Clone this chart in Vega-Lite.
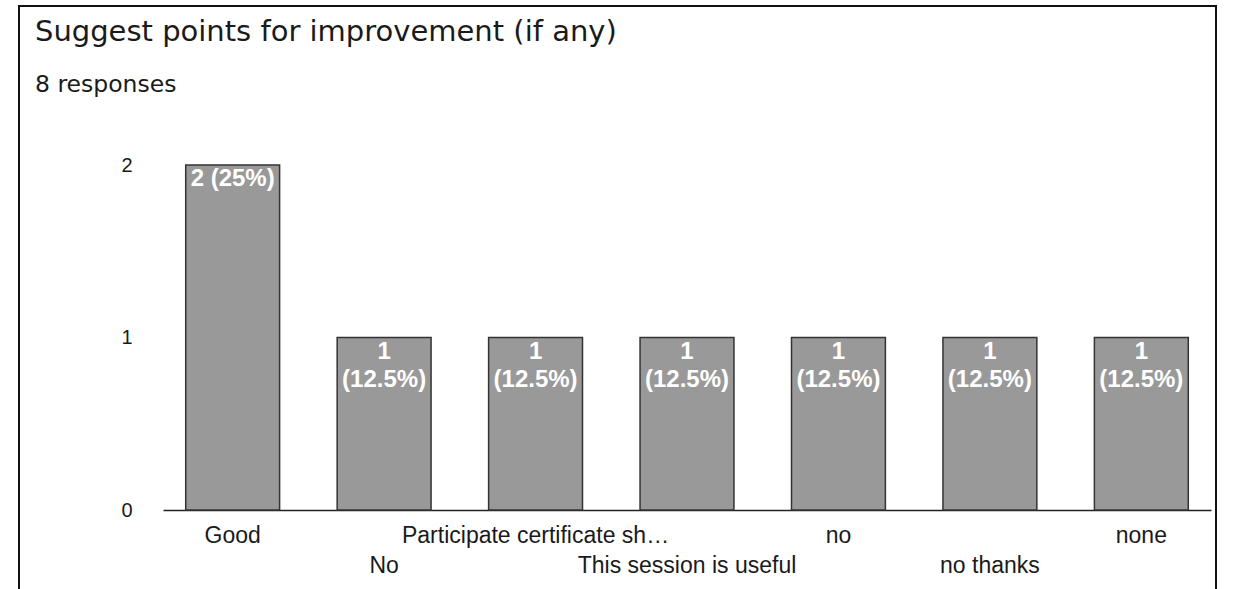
{
  "$schema": "https://vega.github.io/schema/vega-lite/v6.json",
  "autosize": "none",
  "width": 1197,
  "height": 590,
  "padding": {"left": 19, "top": 6, "right": 19, "bottom": 0},
  "background": "white",
  "config": {
    "view": {"stroke": "#111111", "strokeWidth": 2},
    "font": "Liberation Sans"
  },
  "title": {
    "text": "Suggest points for improvement (if any)",
    "subtitle": "8 responses",
    "anchor": "start",
    "orient": "top",
    "frame": "group",
    "baseline": "top",
    "offset": -90,
    "dx": 16,
    "font": "DejaVu Sans",
    "fontSize": 29,
    "fontWeight": "normal",
    "color": "#1a1a1a",
    "subtitleFont": "DejaVu Sans",
    "subtitleFontSize": 23.5,
    "subtitleColor": "#1a1a1a",
    "subtitlePadding": 26
  },
  "data": {
    "values": [
      {"answer": "Good", "count": 2, "label": "2 (25%)"},
      {"answer": "No", "count": 1, "label": "1\n(12.5%)"},
      {"answer": "Participate certificate sh…", "count": 1, "label": "1\n(12.5%)"},
      {"answer": "This session is useful", "count": 1, "label": "1\n(12.5%)"},
      {"answer": "no", "count": 1, "label": "1\n(12.5%)"},
      {"answer": "no thanks", "count": 1, "label": "1\n(12.5%)"},
      {"answer": "none", "count": 1, "label": "1\n(12.5%)"}
    ]
  },
  "encoding": {
    "x": {
      "field": "answer",
      "type": "nominal",
      "sort": null,
      "scale": {"range": [144, 1192], "paddingInner": 0.38, "paddingOuter": 0.15},
      "axis": {
        "title": null,
        "labelAngle": 0,
        "offset": -86,
        "ticks": false,
        "domainColor": "#222222",
        "domainWidth": 1.5,
        "labelFont": "Liberation Sans",
        "labelFontSize": 23,
        "labelColor": "#1a1a1a",
        "labelOverlap": false,
        "labelLimit": 0,
        "labelBaseline": "top",
        "labelPadding": {"condition": {"test": "indexof(['No','This session is useful','no thanks'], datum.value) >= 0", "value": 44}, "value": 14}
      }
    },
    "y": {
      "field": "count",
      "type": "quantitative",
      "scale": {"domain": [0, 2], "range": [504, 159], "nice": false},
      "axis": {
        "title": null,
        "tickCount": 2,
        "tickMinStep": 1,
        "offset": -113,
        "domain": false,
        "ticks": false,
        "grid": false,
        "labelOverlap": false,
        "labelFlush": false,
        "labelPadding": 0,
        "labelFont": "Liberation Sans",
        "labelFontSize": 20,
        "labelColor": "#1a1a1a"
      }
    }
  },
  "layer": [
    {
      "mark": {"type": "bar", "color": "#999999", "stroke": "#333333", "strokeWidth": 1.5}
    },
    {
      "mark": {
        "type": "text",
        "baseline": "top",
        "dy": 2,
        "color": "white",
        "fontWeight": "bold",
        "fontSize": 24,
        "lineBreak": "\n",
        "lineHeight": 28,
        "font": "Liberation Sans"
      },
      "encoding": {"text": {"field": "label"}}
    }
  ]
}
